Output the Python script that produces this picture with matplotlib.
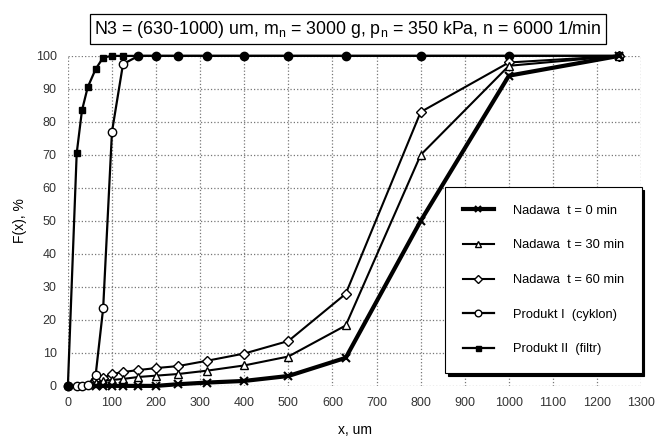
import numpy as np
import matplotlib
matplotlib.use("Agg")
import matplotlib.pyplot as plt

plt.rcParams['font.family'] = ['Liberation Sans', 'DejaVu Sans']

# sieve sizes, um
xSieve = [0, 20, 32, 45, 63, 80, 100, 125, 160, 200, 250, 315, 400, 500, 630, 800, 1000, 1250]
xFeed = [63, 80, 100, 125, 160, 200, 250, 315, 400, 500, 630, 800, 1000, 1250]

# F(x), %
feed0 = [0, 0, 0, 0, 0, 0, 0.5, 1, 1.5, 3, 8.5, 50, 94, 100]
feed30 = [1, 1.5, 1.8, 2.1, 2.7, 3.1, 3.6, 4.6, 6.2, 8.9, 18.3, 70, 97, 100]
feed60 = [2, 2.4, 3.6, 4.2, 4.8, 5.4, 6, 7.6, 9.8, 13.6, 27.9, 83, 98, 100]
prod1 = [0, 0, 0, 0.2, 3.3, 23.5, 77, 97.5, 100, 100, 100, 100, 100, 100, 100, 100, 100, 100]
prod2 = [0, 70.5, 83.5, 90.5, 96, 99.5, 100, 100, 100, 100, 100, 100, 100, 100, 100, 100, 100, 100]

labels = ["Nadawa  t = 0 min", "Nadawa  t = 30 min", "Nadawa  t = 60 min",
          "Produkt I  (cyklon)", "Produkt II  (filtr)"]
titleText = r"N3 = (630-1000) um, m$_\mathregular{n}$ = 3000 g, p$_\mathregular{n}$ = 350 kPa, n = 6000 1/min"

fig = plt.figure(figsize=(6.59, 4.4), dpi=100)
ax = fig.add_axes([0.103, 0.123, 0.870, 0.750])

# Produkt II: squares at small sizes, filled circles along the 100 % line
ax.plot(xSieve, prod2, color='black', lw=1.6, marker='s', ms=4.5, markevery=list(range(1, 8)),
        label=labels[4], zorder=3, clip_on=False)
ax.plot(xSieve[8:], prod2[8:], ls='none', marker='o', ms=6, color='black', zorder=4, clip_on=False)
ax.plot(xSieve[:1], prod2[:1], ls='none', marker='o', ms=6, color='black', zorder=6, clip_on=False)

ax.plot(xSieve[:8], prod1[:8], color='black', lw=1.6, marker='o', ms=6, mfc='white', mec='black',
        mew=1, label=labels[3], zorder=5, clip_on=False)
ax.plot(xSieve[7:], prod1[7:], color='black', lw=1.6, zorder=3, clip_on=False)

ax.plot(xFeed, feed60, color='black', lw=1.5, marker='D', ms=5, mfc='white', mec='black',
        mew=1, label=labels[2], zorder=4, clip_on=False)
ax.plot(xFeed, feed30, color='black', lw=1.5, marker='^', ms=6, mfc='white', mec='black',
        mew=1, label=labels[1], zorder=4, clip_on=False)
ax.plot(xFeed, feed0, color='black', lw=3, marker='x', ms=6, mew=1.5,
        label=labels[0], zorder=4, clip_on=False)

ax.set_xlim(0, 1300)
ax.set_ylim(0, 100)
ax.set_xticks(np.arange(0, 1301, 100))
ax.set_yticks(np.arange(0, 101, 10))
ax.tick_params(labelsize=9, length=0, pad=8, colors='#333333')
ax.grid(True, ls=':', color='#777777', lw=0.9)
for s in ax.spines.values():
    s.set_visible(False)

ax.set_xlabel("x, um", fontsize=10, labelpad=10)
ax.set_ylabel("F(x), %", fontsize=10, labelpad=6)

handles, labs = ax.get_legend_handles_labels()
order = [labs.index(l) for l in labels]
leg = ax.legend([handles[i] for i in order], [labs[i] for i in order],
                loc='lower right', bbox_to_anchor=(1.012, 0.02), fontsize=9.3,
                frameon=True, fancybox=False, shadow={'color': 'black', 'alpha': 1},
                edgecolor='black', handlelength=2.4, labelspacing=1.75,
                borderpad=1.35, handletextpad=1.5, markerscale=0.8)
leg.get_frame().set_linewidth(0.8)

fig.text(0.528, 0.934, titleText, fontsize=12.8, ha='center', va='center',
         bbox=dict(boxstyle='square,pad=0.25', fc='white', ec='black', lw=0.9))

fig.savefig("out.png", dpi=100)
